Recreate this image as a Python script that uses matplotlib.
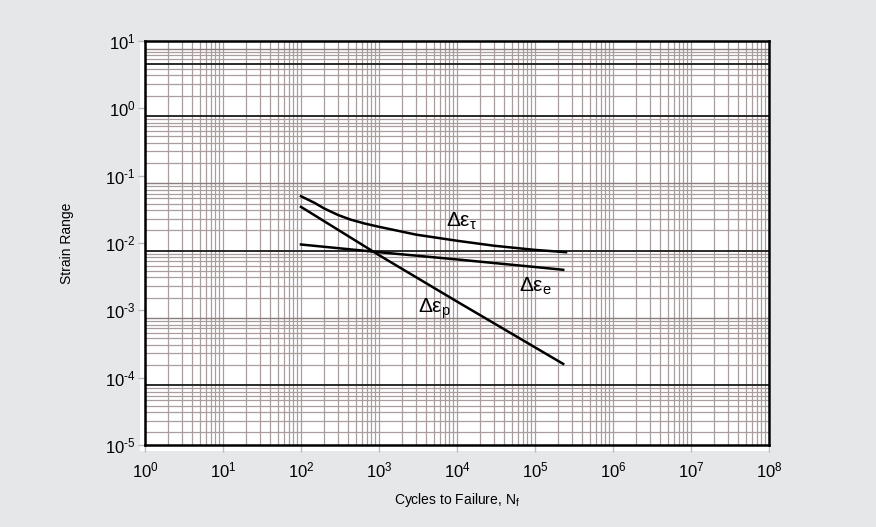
import numpy as np
import matplotlib.pyplot as plt
from matplotlib.patches import Rectangle

plt.rcParams['font.family'] = ['Liberation Sans', 'DejaVu Sans']
plt.rcParams['mathtext.fontset'] = 'custom'
plt.rcParams['mathtext.rm'] = 'Liberation Sans'
plt.rcParams['mathtext.it'] = 'Liberation Sans:italic'

# values (cycles to failure vs strain range)
cycles_total = [1e2, 1.5e2, 2e2, 3e2, 4.3e2, 6.5e2, 1e3, 3e3, 1e4, 3e4, 1e5, 2.5e5]
strain_total = [0.0495, 0.0393, 0.0324, 0.026, 0.0223, 0.0195, 0.0174,
                0.0133, 0.0108, 0.0091, 0.0079, 0.0073]

cycles_elastic = [1e2, 1e3, 1e4, 1e5, 2.3e5]
strain_elastic = [0.0095, 0.0073, 0.0057, 0.0044, 0.0040]

cycles_plastic = [1e2, 1e3, 1e4, 2.3e5]
strain_plastic = [0.0344, 0.0066, 0.00135, 0.00016]

x_exp = list(range(0, 9))
y_exp = list(range(-5, 2))

fig = plt.figure(figsize=(8.76, 5.27), dpi=100)
fig.patch.set_facecolor('#e6e7e9')

# white paper area behind the axes (ticks sit on it)
fig.patches.append(Rectangle((140 / 876, 1 - 451 / 527), 631 / 876, 410 / 527,
                             transform=fig.transFigure, facecolor='white',
                             edgecolor='none', zorder=-5))

ax = fig.add_axes([145 / 876, 1 - 445 / 527, 624 / 876, 404 / 527])
ax.set_zorder(2)
ax.set_xscale('log')
ax.set_yscale('log')
ax.set_xlim(1, 1e8)
ax.set_ylim(1e-5, 1e1)

# log paper grid (the horizontal one is shifted on the scan)
grid_col = '#aa9d9d'
for k in range(0, 8):
    for m in range(1, 10):
        ax.axvline(m * 10.0 ** k, color=grid_col, lw=0.9, zorder=1)
y_shift = 0.77
heavy = [(0, 1), (0, 6), (-2, 1), (-4, 1)]
for k in range(-6, 2):
    for m in range(1, 10):
        v = m * 10.0 ** k * y_shift
        if (k, m) in heavy:
            ax.axhline(v, color='#1a1a1a', lw=1.3, zorder=1.5)
        elif m == 1:
            ax.axhline(v, color='#8a7e7e', lw=1.0, zorder=1.2)
        else:
            ax.axhline(v, color=grid_col, lw=0.9, zorder=1)

ax.plot(cycles_total, strain_total, color='black', lw=1.8, zorder=3)
ax.plot(cycles_elastic, strain_elastic, color='black', lw=1.8, zorder=3)
ax.plot(cycles_plastic, strain_plastic, color='black', lw=1.8, zorder=3)

lab = dict(fontsize=15, zorder=4, va='baseline', ha='left')
ax.text(7.2e3, 0.0175, r'$\mathrm{Δε}_{\mathrm{τ}}$', **lab)
ax.text(6.3e4, 0.00189, r'$\mathrm{Δε}_{\mathrm{e}}$', **lab)
ax.text(3.2e3, 0.00092, r'$\mathrm{Δε}_{\mathrm{p}}$', **lab)

ax.set_xticks([10.0 ** k for k in x_exp])
ax.set_yticks([10.0 ** k for k in y_exp])
ax.set_xticklabels([r'$10^{\text{%d}}$' % k for k in x_exp])
ax.set_yticklabels([r'$10^{\text{%d}}$' % k for k in y_exp])
ax.minorticks_off()
ax.tick_params(axis='both', direction='out', length=5, width=1,
               color='#bbbbbb', labelsize=12)
ax.tick_params(axis='x', pad=6)
ax.tick_params(axis='y', pad=2)
for s in ax.spines.values():
    s.set_linewidth(1.8)
    s.set_color('black')
    s.set_zorder(5)

ax.set_xlabel(r'Cycles to Failure, N$_\mathrm{f}$', fontsize=10, labelpad=8)
ax.set_ylabel('Strain Range', fontsize=10, labelpad=22)

fig.savefig('out.png', dpi=100, facecolor=fig.get_facecolor())
